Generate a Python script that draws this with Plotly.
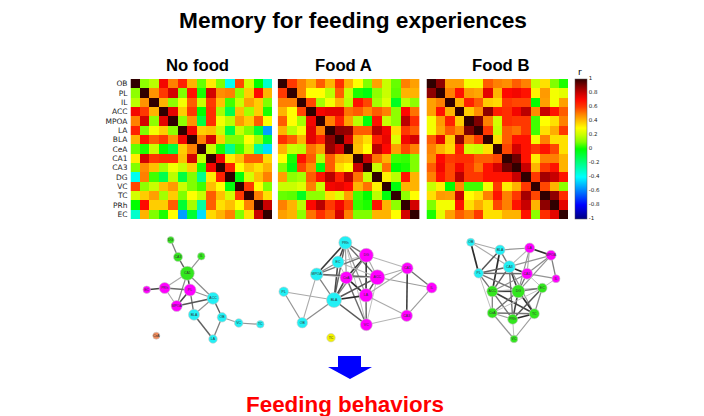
import plotly.graph_objects as go

regions = ["OB","PL","IL","ACC","MPOA","LA","BLA","CeA","CA1","CA3","DG","VC","TC","PRh","EC"]

no_food = [
 [1,.12,.18,.72,.5,.65,.42,.08,.33,.1,-.38,.58,.22,0,-.32],
 [.12,1,.47,.6,.78,.1,.68,.02,.78,.48,.5,.12,.38,.7,.42],
 [.18,.47,1,.42,.12,.28,.55,.2,.6,.4,.05,.2,.45,.38,.1],
 [.72,.6,.42,1,.75,.38,.6,0,.62,.15,-.12,.4,.15,.38,.02],
 [.5,.78,.12,.75,1,.12,.47,-.1,.62,.28,.18,.46,.38,.55,.3],
 [.65,.1,.28,.38,.12,1,.72,.38,.4,.2,-.1,.2,.1,-.08,-.55],
 [.42,.68,.55,.6,.47,.72,1,.5,.78,.38,.1,.1,.3,.15,-.08],
 [.08,.02,.2,0,-.1,.38,.5,1,.2,.02,-.22,.05,.2,-.25,-.45],
 [.33,.78,.6,.62,.62,.4,.78,.2,1,.72,.33,.4,.55,.55,.36],
 [.1,.48,.4,.15,.28,.2,.38,.02,.72,1,.65,.3,.4,.35,.42],
 [-.38,.5,.05,-.12,.18,-.1,.1,-.22,.33,.65,1,-.02,.22,.4,.5],
 [.58,.12,.2,.4,.46,.2,.1,.05,.4,.3,-.02,1,.6,.3,.1],
 [.22,.38,.45,.15,.38,.1,.3,.2,.55,.4,.22,.6,1,.5,.35],
 [0,.7,.38,.38,.55,-.08,.15,-.25,.55,.35,.4,.3,.5,1,.8],
 [-.32,.42,.1,.02,.3,-.55,-.08,-.45,.36,.42,.5,.1,.35,.8,1],
]
food_a = [
 [1,.6,.5,.42,.55,.42,.62,.42,.3,.1,.45,.2,.08,.5,.45],
 [.6,1,.5,.3,.3,.18,.55,.2,.02,-.02,.12,.2,.07,.42,.42],
 [.5,.5,1,.58,.15,.28,.42,.18,.68,.58,.15,.24,-.05,.18,.12],
 [.42,.3,.58,1,.72,.75,.75,.52,.55,.48,.55,.5,.12,.7,.52],
 [.55,.3,.15,.72,1,.5,.65,.45,.18,-.02,.68,.2,.12,.82,.62],
 [.42,.18,.28,.75,.5,1,.88,.87,.55,.55,.82,.72,.35,.6,.55],
 [.62,.55,.42,.75,.65,.88,1,.78,.42,.35,.65,.74,.24,.72,.78],
 [.42,.2,.18,.52,.45,.87,.78,1,.4,.3,.82,.7,.45,.58,.5],
 [.3,.02,.68,.55,.18,.55,.42,.4,1,.8,.52,.42,.05,.04,.1],
 [.1,-.02,.58,.48,-.02,.55,.35,.3,.8,1,.2,.52,0,.02,.1],
 [.45,.12,.15,.55,.68,.82,.65,.82,.52,.2,1,.32,.18,.68,.42],
 [.2,.2,.24,.5,.2,.72,.74,.7,.42,.52,.32,1,-.02,.42,.42],
 [.08,.07,-.05,.12,.12,.35,.24,.45,.05,0,.18,-.02,1,.12,.3],
 [.5,.42,.18,.7,.82,.6,.72,.58,.04,.02,.68,.42,.12,1,.78],
 [.45,.42,.12,.52,.62,.55,.78,.5,.1,.1,.42,.42,.3,.78,1],
]
food_b = [
 [1,.88,.45,.45,.28,.28,.55,.5,.48,.55,.5,.2,.35,.1,.02],
 [.88,1,.5,.68,.46,.44,.75,.42,.7,.72,.68,.32,.46,.28,.25],
 [.45,.5,1,.42,.65,.55,.38,.36,.6,.58,.58,0,.45,.28,.45],
 [.45,.68,.42,1,.38,.48,.88,.65,.62,.72,.82,.48,.8,.68,.55],
 [.28,.46,.65,.38,1,.9,.5,.22,.62,.6,.6,.05,.3,.35,.5],
 [.28,.44,.55,.48,.9,1,.6,.2,.55,.52,.6,.05,.35,.43,.6],
 [.55,.75,.38,.88,.5,.6,1,.35,.55,.68,.68,.28,.5,.35,.35],
 [.5,.42,.36,.65,.22,.2,.35,1,.58,.78,.68,.6,.68,.58,.35],
 [.48,.7,.6,.62,.62,.55,.55,.58,1,.92,.68,.33,.5,.5,.42],
 [.55,.72,.58,.72,.6,.52,.68,.78,.92,1,.8,.42,.6,.68,.42],
 [.5,.68,.58,.82,.6,.6,.68,.68,.68,.8,1,.6,.85,.8,.68],
 [.2,.32,0,.48,.05,.05,.28,.6,.33,.42,.6,1,.58,.42,.12],
 [.35,.46,.45,.8,.3,.35,.5,.68,.5,.6,.85,.58,1,.88,.62],
 [.1,.28,.28,.68,.35,.43,.35,.58,.5,.68,.8,.42,.88,1,.75],
 [.02,.25,.45,.55,.5,.6,.35,.35,.42,.42,.68,.12,.62,.75,1],
]

MAG, CYA, GRN, ORG, YEL = "#ff00ff", "#22f0f5", "#33e61e", "#f08a5a", "#f2f200"

# Network nodes: region -> (x, y, diameter, colour)
net_no_food = {
 "DG":(170.7,240,7,GRN),"CA3":(178,257,9,GRN),"IL":(201.3,256.3,7.5,GRN),"CA1":(187.3,273.3,14,GRN),
 "EC":(146.7,289.7,7.5,MAG),"PRh":(164.7,288,11,MAG),"PL":(190,290,12,MAG),"MPOA":(176.7,306,11,MAG),
 "ACC":(213,298.3,12,CYA),"BLA":(194,314.7,11,CYA),"OB":(222,317.3,9.5,CYA),"VC":(238.7,323,8.5,CYA),
 "TC":(260.3,324.3,7.5,CYA),"LA":(213,339,8.5,CYA),"CeA":(156.3,335.7,7,ORG),
}
net_food_a = {
 "PRh":(345.3,242.7,13,CYA),"DG":(366.3,255.3,14,MAG),"EC":(338,262,12,CYA),"MPOA":(316.7,274.3,12.5,CYA),
 "CeA":(346.3,277.7,12.5,MAG),"ACC":(377.3,277.3,15,MAG),"CA1":(407.3,268.3,11.5,MAG),"IL":(431.7,287.7,10.5,MAG),
 "PL":(283.7,291.7,9.5,CYA),"BLA":(334,300,15,CYA),"LA":(366,295.3,13.5,MAG),"OB":(302.3,322.7,10.5,CYA),
 "VC":(366.3,324.7,12,MAG),"CA3":(406.7,315.7,11.5,MAG),"TC":(331,337.7,8.5,YEL),
}
net_food_b = {
 "OB":(470.7,242.3,8,CYA),"BLA":(500,250,10,CYA),"LA":(529.7,248,10,MAG),"MPOA":(551,255.3,10,MAG),
 "CA3":(509.3,266.7,12,CYA),"PL":(478.7,273.3,9.5,CYA),"CA1":(527,273.7,11,MAG),"IL":(556,278.7,8,MAG),
 "ACC":(492.3,291.3,11,GRN),"DG":(518.3,291.3,13,GRN),"EC":(542.3,288,9.5,GRN),"CeA":(492.3,313,10,GRN),
 "PRh":(512.7,319.3,10,GRN),"TC":(534.3,313.7,10,GRN),"VC":(514,339,7.5,GRN),
}
edges_no_food = ["DG-CA3","CA3-CA1","IL-CA1","CA1-PRh","CA1-PL","CA1-MPOA","CA1-ACC","EC-PRh","PRh-PL","PRh-MPOA",
 "PL-MPOA","PL-ACC","PL-BLA","MPOA-ACC","BLA-ACC","BLA-LA","ACC-OB","OB-LA","OB-VC","VC-TC"]
edges_food_a = ["PRh-DG","PRh-EC","PRh-MPOA","PRh-CeA","PRh-ACC","PRh-BLA","PRh-LA","PRh-VC","DG-EC","DG-CeA","DG-BLA",
 "DG-MPOA","DG-LA","DG-CA1","DG-ACC","EC-MPOA","EC-BLA","EC-CeA","EC-ACC","MPOA-CeA","MPOA-ACC","MPOA-BLA","MPOA-OB",
 "CeA-BLA","CeA-ACC","CeA-VC","CeA-LA","ACC-CA1","ACC-BLA","ACC-LA","ACC-VC","ACC-IL","CA1-IL","CA1-CA3","CA1-LA",
 "IL-CA3","PL-BLA","PL-OB","BLA-OB","BLA-LA","BLA-VC","LA-VC","LA-CA3","VC-CA3"]
edges_food_b = ["OB-BLA","OB-CA3","OB-PL","BLA-LA","BLA-CA3","BLA-PL","BLA-ACC","LA-MPOA","LA-CA3","LA-CA1","LA-DG",
 "MPOA-CA3","MPOA-CA1","MPOA-IL","MPOA-DG","CA3-PL","CA3-CA1","CA3-ACC","CA3-DG","CA3-PRh","CA3-TC","PL-CA1","PL-ACC",
 "PL-DG","PL-CeA","CA1-IL","CA1-DG","CA1-EC","CA1-ACC","IL-EC","ACC-DG","ACC-CeA","ACC-PRh","ACC-TC","ACC-EC","DG-EC",
 "DG-CeA","DG-PRh","DG-TC","EC-TC","EC-PRh","EC-CeA","CeA-PRh","CeA-TC","CeA-VC","PRh-TC","PRh-VC","TC-VC"]

colorbar_ticks = [1,.8,.6,.4,.2,0,-.2,-.4,-.6,-.8,-1]
arrow_x = [338,361,361,372,350,328,338,338]
arrow_y = [356,356,367,367,379,367,367,356]

colorscale = [[0,"#00007f"],[.1,"#0000ff"],[.3,"#00ffff"],[.4,"#00ff80"],[.5,"#00ff00"],[.55,"#80ff00"],
 [.6,"#c8ff00"],[.65,"#ffff00"],[.7,"#ffc000"],[.75,"#ff8000"],[.8,"#ff3800"],[.85,"#ff0800"],[.9,"#c80000"],
 [.95,"#800000"],[1,"#300000"]]

W, H = 704, 416
SANS = "Liberation Sans, Arial, sans-serif"
fig = go.Figure()

panels = [("No food", no_food, 130.5, 272, 197.5), ("Food A", food_a, 277.7, 419.5, 343.5), ("Food B", food_b, 426.5, 568, 500)]
layout = {}
for i, (name, z, x0, x1, tx) in enumerate(panels, start=1):
    fig.add_trace(go.Heatmap(z=z, x=regions, y=regions, zmin=-1, zmax=1, colorscale=colorscale,
        xaxis=f"x{i}", yaxis=f"y{i}", showscale=(i == 3),
        colorbar=dict(x=575/W, xanchor="left", y=(H-218.5)/H, yanchor="bottom", len=140/H, lenmode="fraction",
            thickness=12, thicknessmode="pixels", xpad=0, ypad=0, outlinewidth=0.5, outlinecolor="#555",
            tickvals=colorbar_ticks, ticktext=[f"{v:g}" for v in colorbar_ticks],
            tickfont=dict(size=5.5, family="DejaVu Sans", color="#222"), ticklen=0)))
    layout[f"xaxis{i}"] = dict(domain=[x0/W, x1/W], showticklabels=False, ticks="", showgrid=False,
                               zeroline=False, anchor=f"y{i}", type="category")
    layout[f"yaxis{i}"] = dict(domain=[(H-219)/H, (H-79)/H], autorange="reversed", showticklabels=(i == 1),
                               ticks="", showgrid=False, zeroline=False, anchor=f"x{i}", type="category",
                               tickfont=dict(size=7.5, family="DejaVu Sans", color="#222"), ticklabelstandoff=2)

layout["xaxis4"] = dict(domain=[0, 1], range=[0, W], visible=False, anchor="y4")
layout["yaxis4"] = dict(domain=[0, 1], range=[H, 0], visible=False, anchor="x4")

def add_network(nodes, edges, matrix):
    for e in edges:
        a, b = e.split("-")
        r = abs(matrix[regions.index(a)][regions.index(b)])
        t = min(max((r - .5) / .35, 0), 1)
        g = int(190 - 145 * t)
        fig.add_trace(go.Scatter(x=[nodes[a][0], nodes[b][0]], y=[nodes[a][1], nodes[b][1]], mode="lines",
            line=dict(color=f"rgb({g},{g},{g})", width=1 + 0.7 * t), xaxis="x4", yaxis="y4",
            showlegend=False, hoverinfo="skip"))
    names = list(nodes)
    fig.add_trace(go.Scatter(x=[nodes[n][0] for n in names], y=[nodes[n][1] for n in names],
        mode="markers+text", text=names, textposition="middle center",
        textfont=dict(size=3.5, family=SANS, color="#333"),
        marker=dict(size=[nodes[n][2] for n in names], color=[nodes[n][3] for n in names], opacity=1,
                    line=dict(color="#c8c8c8", width=0.6)),
        xaxis="x4", yaxis="y4", showlegend=False))

add_network(net_no_food, edges_no_food, no_food)
add_network(net_food_a, edges_food_a, food_a)
add_network(net_food_b, edges_food_b, food_b)

fig.add_trace(go.Scatter(x=arrow_x, y=arrow_y, mode="lines", fill="toself", fillcolor="#0000ff",
    line=dict(color="#0000ff", width=0), xaxis="x4", yaxis="y4", showlegend=False, hoverinfo="skip"))

def label(text, x, y, size, color="black", bold=True, font=SANS):
    return dict(text=f"<b>{text}</b>" if bold else text, xref="paper", yref="paper", x=x/W, y=(H-y)/H,
                xanchor="center", yanchor="middle", showarrow=False, font=dict(size=size, family=font, color=color))

annotations = [
    label("Memory for feeding experiences", 352.5, 19.5, 22.7),
    label("Feeding behaviors", 345, 404.5, 22.4, color="#ff0000"),
    label("r", 580, 71.5, 9, bold=False, font="DejaVu Sans"),
]
for name, z, x0, x1, tx in panels:
    annotations.append(label(name, tx, 65, 16.7))

fig.update_layout(width=W, height=H, margin=dict(l=0, r=0, t=0, b=0, autoexpand=False), paper_bgcolor="white",
                  plot_bgcolor="rgba(0,0,0,0)", annotations=annotations, showlegend=False, **layout)
fig.write_html("out.html", config={"displayModeBar": False},
               post_script="document.body.style.margin='0';document.documentElement.style.overflow='hidden';")
